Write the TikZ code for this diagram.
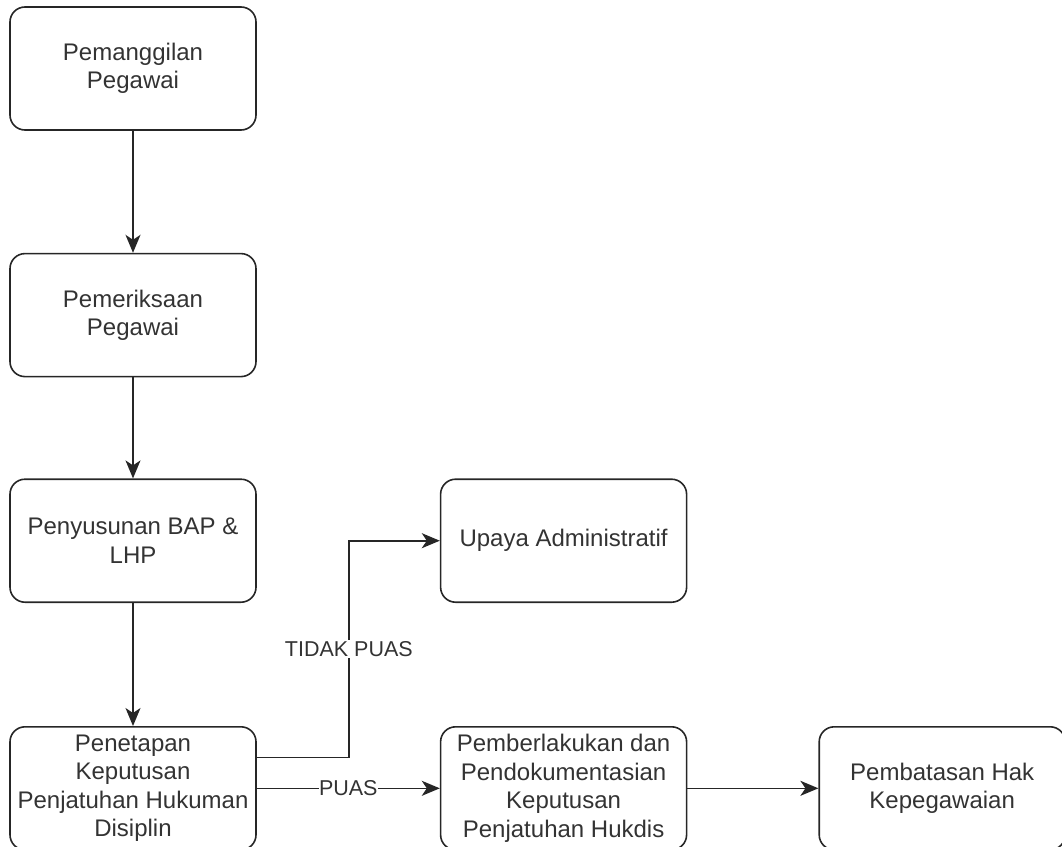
\documentclass[tikz,border=0pt]{standalone}
\usepackage{fontspec}
\setmainfont{Liberation Sans}
\usepackage{tikz}
\usetikzlibrary{positioning,arrows.meta}

\tikzset{
	box/.style={draw=black!85, line width=1.6pt, rounded corners=15pt, minimum width=246pt, minimum height=123pt, inner sep=3pt, align=center, text=black!80, font=\fontsize{24}{28.5}\selectfont},
	arr/.style={draw=black!85, line width=1.6pt, -{Stealth[length=18pt,width=15pt,inset=5pt]}},
	lbl/.style={fill=white, inner sep=1.5pt, text=black!80, font=\fontsize{21.5}{25}\selectfont}
}

\begin{document}
\begin{tikzpicture}
\useasboundingbox (0,0) rectangle (1062pt,-846pt);
\node[box] (panggil) at (133pt,-68.5pt) {Pemanggilan\\Pegawai};
\node[box, below=122pt of panggil] (periksa) {Pemeriksaan\\Pegawai};
\node[box, below=101pt of periksa] (bap) {Penyusunan BAP \&\\LHP};
\node[box, below=123pt of bap] (tetap) {Penetapan\\Keputusan\\Penjatuhan Hukuman\\Disiplin};
\node[box, right=183pt of tetap] (berlaku) {Pemberlakukan dan\\Pendokumentasian\\Keputusan\\Penjatuhan Hukdis};
\node[box, right=131pt of berlaku] (batas) {Pembatasan Hak\\Kepegawaian};
\node[box, above=123pt of berlaku] (upaya) {Upaya Administratif};

\draw[arr] (panggil) -- (periksa);
\draw[arr] (periksa) -- (bap);
\draw[arr] (bap) -- (tetap);
\draw[arr] ([yshift=31pt]tetap.east) -- ++(92pt,0) |- (upaya.west) node[lbl, pos=0.25] {TIDAK PUAS};
\draw[arr] (tetap) -- (berlaku) node[lbl, midway, inner sep=0pt] {PUAS};
\draw[arr] (berlaku) -- (batas);
\end{tikzpicture}
\end{document}
